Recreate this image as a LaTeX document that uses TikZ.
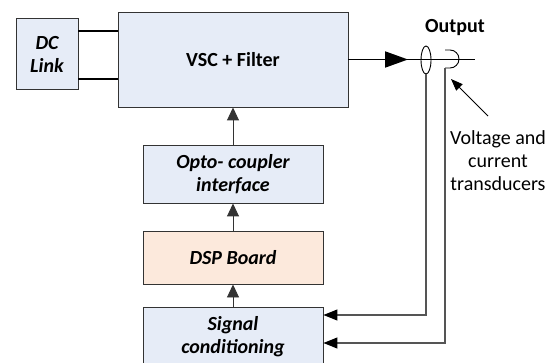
\documentclass[tikz,border=0pt]{standalone}
\usepackage{fontspec}
\setmainfont{Carlito}
\usetikzlibrary{arrows.meta,shapes.geometric}

\definecolor{boxblue}{HTML}{E6ECF7}
\definecolor{boxpeach}{HTML}{FCE9DC}
\definecolor{edge}{HTML}{333333}
\definecolor{sense}{HTML}{555555}

\tikzset{
  block/.style={draw=edge, line width=0.9pt, fill=boxblue, inner sep=0pt,
    align=center, font=\fontsize{20}{23}\selectfont\bfseries\itshape},
  power/.style={line width=1.9pt, black},
  flow/.style={line width=0.9pt, edge, -{Triangle[length=13pt,width=12pt]}},
  feedback/.style={line width=1.1pt, sense, -{Triangle[length=14pt,width=11pt,color=black]}},
  plain/.style={font=\fontsize{20}{23}\selectfont, align=center}
}

\begin{document}
\begin{tikzpicture}[x=1pt,y=-1pt]
  \useasboundingbox (0,0) rectangle (556,363);

  % main blocks
  \node[block, minimum width=62pt, minimum height=71pt] (dc) at (47,54) {DC\\Link};
  \node[block, minimum width=230pt, minimum height=95pt, font=\fontsize{20}{23}\selectfont\bfseries] (vsc) at (233,59.5) {VSC + Filter};
  \node[block, minimum width=180pt, minimum height=58pt] (opto) at (233,174) {Opto- coupler\\interface};
  \node[block, fill=boxpeach, minimum width=180pt, minimum height=53pt] (dsp) at (233,257.5) {DSP Board};
  \node[block, minimum width=180pt, minimum height=59pt] (sig) at (233,336.5) {Signal\\conditioning};

  % DC bus between the link and the converter
  \draw[power] ([yshift=23pt]dc.east) -- ([yshift=23pt]dc.east -| vsc.west);
  \draw[power] ([yshift=-25pt]dc.east) -- ([yshift=-25pt]dc.east -| vsc.west);

  % control chain
  \draw[flow] (sig.north) -- (dsp.south);
  \draw[flow] (dsp.north) -- (opto.south);
  \draw[flow] (opto.north) -- (vsc.south);

  % output line
  \coordinate (tip) at (408,59.5);
  \coordinate (outend) at (475,59.5);
  \draw[power] (vsc.east) -- (outend);
  \draw[power, -{Triangle[length=23pt,width=16pt]}] (vsc.east) -- (tip);
  \node[font=\fontsize{20}{23}\selectfont\bfseries] (outlbl) at (455,28) {Output};

  % current transducer (ring around the conductor)
  \node[draw=black, line width=0.9pt, ellipse, inner sep=0pt,
        minimum width=10pt, minimum height=28pt] (ct) at (426,60) {};

  % voltage transducer (hook on the conductor)
  \coordinate (vt) at (445,68);
  \draw[line width=0.9pt] (445,50) -- (450,50) arc[start angle=-90, end angle=90, x radius=9, y radius=9] -- (vt);

  % measured signals back to the conditioning board
  \draw[feedback] (ct.south) |- ([yshift=21.5pt]sig.east);
  \draw[feedback] (vt) |- ([yshift=-6.5pt]sig.east);

  % annotation
  \node[plain] (trans) at (498,161) {Voltage and\\current\\transducers};
  \coordinate (anntail) at (488,116);
  \coordinate (annhead) at (451,79);
  \draw[line width=0.9pt, -{Triangle[length=12pt,width=9pt]}] (anntail) -- (annhead);
\end{tikzpicture}
\end{document}
